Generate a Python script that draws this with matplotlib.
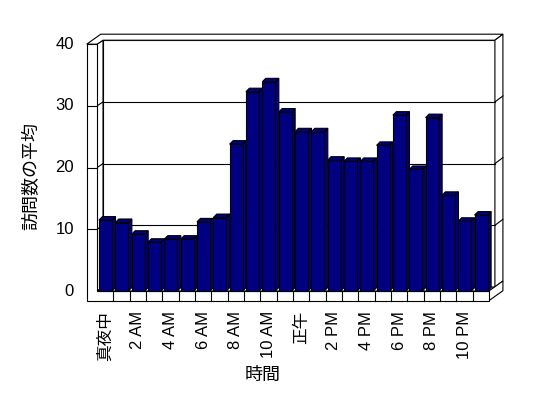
import numpy as np
import matplotlib
matplotlib.use('Agg')
import matplotlib.pyplot as plt
from matplotlib.patches import Polygon

plt.rcParams['font.family'] = ['Liberation Sans', 'Noto Sans CJK JP', 'DejaVu Sans']

# data
hours = ['真夜中', '2 AM', '4 AM', '6 AM', '8 AM', '10 AM',
         '正午', '2 PM', '4 PM', '6 PM', '8 PM', '10 PM']
visits = [11.5, 11.1, 9.2, 7.9, 8.4, 8.4, 11.2, 11.9,
          23.8, 32.3, 33.9, 29.0, 25.8, 25.8, 21.2, 21.0,
          21.0, 23.6, 28.5, 19.7, 28.1, 15.5, 11.3, 12.3]
yticks = [0, 10, 20, 30, 40]
xlabel = '時間'
ylabel = '訪問数の平均'

# geometry of the pseudo-3D frame (pixels of the 548x398 picture)
W, H = 548, 398
CAT_PX = 16.33      # px per category
VAL_PX = 6.17       # px per value unit
X0, Y0 = 97.0, 291.0  # front plane origin in px

def d(px, py):
    # pixel offset (right, down) -> data offset
    return px / CAT_PX, -py / VAL_PX

def at(px, py):
    return (px - X0) / CAT_PX, (Y0 - py) / VAL_PX

n = len(visits)
top = yticks[-1]
bdx, bdy = d(3.5, -3.5)      # bar depth
w1x, w1y = d(6, -4)          # back wall inner face
w2x, w2y = d(14, -10)        # back wall outer face
LW = d(10.3, 0)[0]           # left wall thickness
FL = -d(0, 9.7)[1]           # floor thickness
BAR_OFF, BAR_W = 0.12, 0.8
NAVY = '#000080'
LW_LINE = 0.8

fig = plt.figure(figsize=(W / 100, H / 100), dpi=100)
ax = fig.add_axes([0, 0, 1, 1])
ax.set_xlim(-X0 / CAT_PX, (W - X0) / CAT_PX)
ax.set_ylim(-(H - Y0) / VAL_PX, Y0 / VAL_PX)
ax.axis('off')

def poly(pts, fc='white', z=1):
    ax.add_patch(Polygon(pts, closed=True, facecolor=fc, edgecolor='black',
                         linewidth=LW_LINE, joinstyle='miter', zorder=z))

# back wall, left wall inner face, floor top
poly([(w1x, w1y), (n + w1x, w1y), (n + w1x, top + w1y), (w1x, top + w1y)])
poly([(0, 0), (w1x, w1y), (w1x, top + w1y), (0, top)])
poly([(0, 0), (n, 0), (n + w1x, w1y), (w1x, w1y)])
# top of walls
poly([(-LW, top), (0, top), (w1x, top + w1y), (n + w1x, top + w1y),
      (n + w2x, top + w2y), (-LW + w2x, top + w2y)])
# right end of back wall and floor
poly([(n + w1x, w1y), (n + w1x, top + w1y), (n + w2x, top + w2y), (n + w2x, w2y)])
poly([(n, -FL), (n, 0), (n + w2x, w2y), (n + w2x, -FL + w2y)])
# front faces of left wall and floor
poly([(-LW, -FL), (n, -FL), (n, 0), (0, 0), (0, top), (-LW, top)], z=2)
for i in range(1, n):
    ax.plot([i, i], [-FL, 0], color='black', lw=LW_LINE, zorder=3)

# gridlines
for v in yticks[1:-1]:
    kw = dict(color='black', lw=LW_LINE, zorder=1.5)
    ax.plot([w1x, n + w1x], [v + w1y, v + w1y], **kw)
    ax.plot([0, w1x], [v, v + w1y], **kw)
    ax.plot([n + w1x, n + w2x], [v + w1y, v + w2y], **kw)
    ax.plot([-LW, 0], [v, v], color='black', lw=LW_LINE, zorder=3)

# bars
for i, v in enumerate(visits):
    l = i + BAR_OFF
    r = l + BAR_W
    z = 4 + i * 0.01
    poly([(r, 0), (r, v), (r + bdx, v + bdy), (r + bdx, bdy)], fc=NAVY, z=z)
    poly([(l, v), (r, v), (r + bdx, v + bdy), (l + bdx, v + bdy)], fc=NAVY, z=z)
    poly([(l, 0), (r, 0), (r, v), (l, v)], fc=NAVY, z=z + 0.005)

# tick labels
lx = at(74, 0)[0]
for v in yticks:
    ax.text(lx, v, str(v), ha='right', va='center', fontsize=12)
ly = at(0, 311)[1]
for k, lab in enumerate(hours):
    ax.text(2 * k + 0.5, ly, lab, rotation=90, ha='center', va='top', fontsize=12)

# axis titles
ax.text(*at(263, 375), xlabel, ha='center', va='center', fontsize=13)
ax.text(*at(32, 176), ylabel, ha='center', va='center', rotation=90, fontsize=13)

fig.savefig('out.png', dpi=100)
